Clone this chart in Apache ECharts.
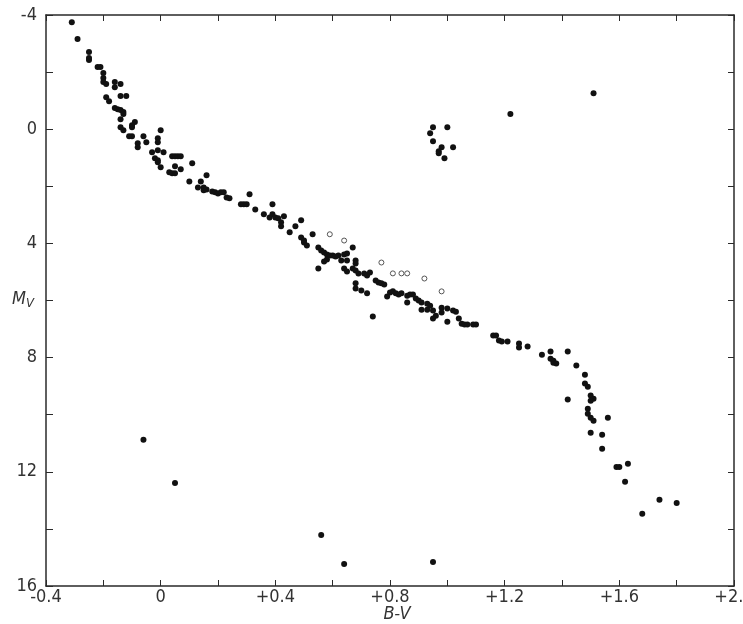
<!DOCTYPE html>
<html>
<head>
<meta charset="utf-8">
<script src="https://cdn.jsdelivr.net/npm/echarts@6.0.0/dist/echarts.min.js"></script>
<style>
html,body{margin:0;padding:0;background:#fff;}
#chart{width:743px;height:624px;}
</style>
</head>
<body>
<div id="chart"></div>
<script>
// Filled stars: B-V colour index and absolute magnitude M_V
const bvFilled = [
-0.31,-0.29,-0.25,-0.25,-0.25,-0.22,-0.21,-0.20,-0.20,-0.20,-0.19,-0.16,-0.16,-0.14,-0.19,-0.18,-0.14,-0.12,
-0.16,-0.15,-0.14,-0.13,-0.13,-0.14,-0.09,-0.10,-0.10,-0.14,-0.13,-0.11,-0.10,-0.06,-0.05,-0.08,-0.08,
0.00,-0.01,-0.01,-0.03,-0.01,0.01,-0.02,-0.01,-0.01,0.00,0.04,0.05,0.06,0.07,0.05,0.07,0.03,0.04,0.05,
0.11,0.10,0.14,0.16,0.13,0.15,0.15,0.16,0.18,0.19,0.20,0.21,0.22,0.23,0.24,0.31,0.28,0.29,0.30,0.33,
0.39,0.36,0.38,0.39,0.40,0.41,0.43,0.42,0.42,0.45,0.47,0.49,0.49,0.50,0.50,0.51,0.53,0.55,0.56,0.57,
0.58,0.59,0.60,0.61,0.62,0.64,0.65,0.67,0.57,0.58,0.63,0.65,0.68,0.68,0.55,0.64,0.65,0.67,0.68,0.69,
0.71,0.72,0.73,0.68,0.68,0.70,0.72,0.75,0.76,0.77,0.78,0.79,0.80,0.81,0.82,0.83,0.84,0.86,0.87,0.88,
0.89,0.90,0.91,0.93,0.94,0.86,0.91,0.93,0.95,0.96,0.95,0.98,0.98,1.00,1.02,1.03,1.00,1.04,1.05,1.06,
1.07,1.09,1.10,0.74,1.16,1.17,1.18,1.19,1.21,1.25,1.25,1.28,1.33,1.36,1.36,1.37,1.37,1.38,1.42,1.45,
1.48,1.48,1.49,1.50,1.51,1.50,1.42,1.49,1.49,1.50,1.51,1.56,1.50,1.54,1.54,1.59,1.60,1.63,1.62,1.68,
1.74,1.80,-0.06,0.05,0.56,0.64,0.95,0.95,1.00,0.94,0.95,0.98,0.97,0.97,1.02,0.99,1.22,1.51
];
const mvFilled = [
-3.75,-3.16,-2.70,-2.42,-2.49,-2.18,-2.18,-1.97,-1.79,-1.65,-1.58,-1.65,-1.47,-1.58,-1.12,-0.98,-1.16,-1.16,
-0.74,-0.70,-0.67,-0.60,-0.53,-0.35,-0.25,-0.14,-0.07,-0.07,0.04,0.25,0.25,0.25,0.46,0.49,0.63,
0.04,0.32,0.46,0.81,0.74,0.81,1.02,1.09,1.16,1.33,0.95,0.95,0.95,0.95,1.30,1.40,1.51,1.54,1.54,
1.19,1.83,1.83,1.61,2.04,2.04,2.14,2.11,2.18,2.21,2.25,2.21,2.21,2.39,2.42,2.28,2.63,2.63,2.63,2.81,
2.63,2.98,3.09,2.98,3.09,3.12,3.05,3.26,3.40,3.61,3.40,3.19,3.79,3.90,3.97,4.07,3.68,4.14,4.25,4.32,
4.39,4.42,4.42,4.46,4.42,4.39,4.35,4.14,4.63,4.56,4.60,4.60,4.60,4.70,4.88,4.88,4.98,4.88,4.95,5.05,
5.05,5.12,5.02,5.40,5.58,5.65,5.75,5.30,5.37,5.40,5.44,5.86,5.72,5.68,5.75,5.79,5.75,5.83,5.79,5.79,
5.93,6.00,6.07,6.11,6.18,6.07,6.32,6.32,6.35,6.53,6.63,6.25,6.42,6.28,6.35,6.39,6.74,6.63,6.81,6.84,
6.84,6.84,6.84,6.56,7.23,7.23,7.40,7.44,7.44,7.51,7.65,7.61,7.90,7.79,8.04,8.11,8.18,8.21,7.79,8.28,
8.60,8.91,9.02,9.33,9.44,9.51,9.47,9.79,9.97,10.11,10.21,10.11,10.63,10.70,11.19,11.83,11.83,11.72,12.35,13.47,
12.98,13.09,10.88,12.39,14.21,15.23,15.16,-0.07,-0.07,0.14,0.42,0.63,0.77,0.84,0.63,1.02,-0.53,-1.26
];
// Open circles
const bvOpen = [0.59,0.64,0.77,0.81,0.84,0.86,0.92,0.98];
const mvOpen = [3.68,3.90,4.67,5.05,5.05,5.05,5.23,5.68];

// Tick labels
const xTickValues = [-0.4,0,0.4,0.8,1.2,1.6,2.0];
const xTickTexts  = ['-0.4','0','+0.4','+0.8','+1.2','+1.6','+2.0'];
const yTickValues = [-4,0,4,8,12,16];
const yTickTexts  = ['-4','0','4','8','12','16'];

const filledData = bvFilled.map((b,i)=>[b,mvFilled[i]]);
const openData = bvOpen.map((b,i)=>[b,mvOpen[i]]);

function lookup(vals, texts, v){
  const r = Math.round(v*10)/10;
  for(let i=0;i<vals.length;i++){ if(Math.abs(vals[i]-r)<1e-6) return texts[i]; }
  return '';
}

const fontFam = '"DejaVu Sans Condensed","Liberation Sans Narrow","Roboto",sans-serif';
const axisColor = '#2a2a2a';

const chart = echarts.init(document.getElementById('chart'), null, {renderer:'canvas'});
chart.setOption({
  backgroundColor:'#ffffff',
  animation:false,
  grid:{left:46,right:9,top:15,bottom:38,containLabel:false,outerBoundsMode:'none'},
  xAxis:[{
    type:'value',min:-0.4,max:2.0,interval:0.2,
    position:'bottom',
    axisLine:{show:true,onZero:false,lineStyle:{color:axisColor,width:1.5}},
    axisTick:{show:true,inside:true,length:6,lineStyle:{color:axisColor,width:1}},
    splitLine:{show:false},
    axisLabel:{
      color:'#333',fontSize:18,fontFamily:fontFam,margin:2,
      formatter:v=>lookup(xTickValues,xTickTexts,v)
    }
  },{
    type:'value',min:-0.4,max:2.0,interval:0.2,
    position:'top',
    axisLine:{show:true,onZero:false,lineStyle:{color:axisColor,width:1.5}},
    axisTick:{show:true,inside:true,length:6,lineStyle:{color:axisColor,width:1}},
    splitLine:{show:false},
    axisLabel:{show:false}
  }],
  yAxis:[{
    type:'value',min:-4,max:16,interval:2,inverse:true,
    position:'left',
    axisLine:{show:true,onZero:false,lineStyle:{color:axisColor,width:1.5}},
    axisTick:{show:true,inside:true,length:7,lineStyle:{color:axisColor,width:1}},
    splitLine:{show:false},
    axisLabel:{
      color:'#333',fontSize:18,fontFamily:fontFam,margin:9,
      formatter:v=>lookup(yTickValues,yTickTexts,v)
    }
  },{
    type:'value',min:-4,max:16,interval:2,inverse:true,
    position:'right',
    axisLine:{show:true,onZero:false,lineStyle:{color:axisColor,width:1.5}},
    axisTick:{show:true,inside:true,length:6,lineStyle:{color:axisColor,width:1}},
    splitLine:{show:false},
    axisLabel:{show:false}
  }],
  graphic:[{
    type:'text',left:12,top:290,
    style:{
      text:'{m|M}{s|V}',
      rich:{
        m:{fontSize:18,fontStyle:'italic',fontFamily:fontFam,fill:'#333'},
        s:{fontSize:13,fontStyle:'italic',fontFamily:fontFam,fill:'#333',padding:[10,0,0,0]}
      }
    }
  },{
    type:'text',x:397,y:614,
    style:{
      text:'B-V',fontSize:18,fontStyle:'italic',fontFamily:fontFam,fill:'#333',
      align:'center',verticalAlign:'middle'
    }
  }],
  series:[{
    type:'scatter',xAxisIndex:0,yAxisIndex:0,
    symbol:'circle',symbolSize:6,
    itemStyle:{color:'#111111',opacity:1},
    data:filledData
  },{
    type:'scatter',xAxisIndex:0,yAxisIndex:0,
    symbol:'circle',symbolSize:5,
    itemStyle:{color:'#ffffff',borderColor:'#555',borderWidth:1,opacity:1},
    data:openData
  }]
});
</script>
</body>
</html>
